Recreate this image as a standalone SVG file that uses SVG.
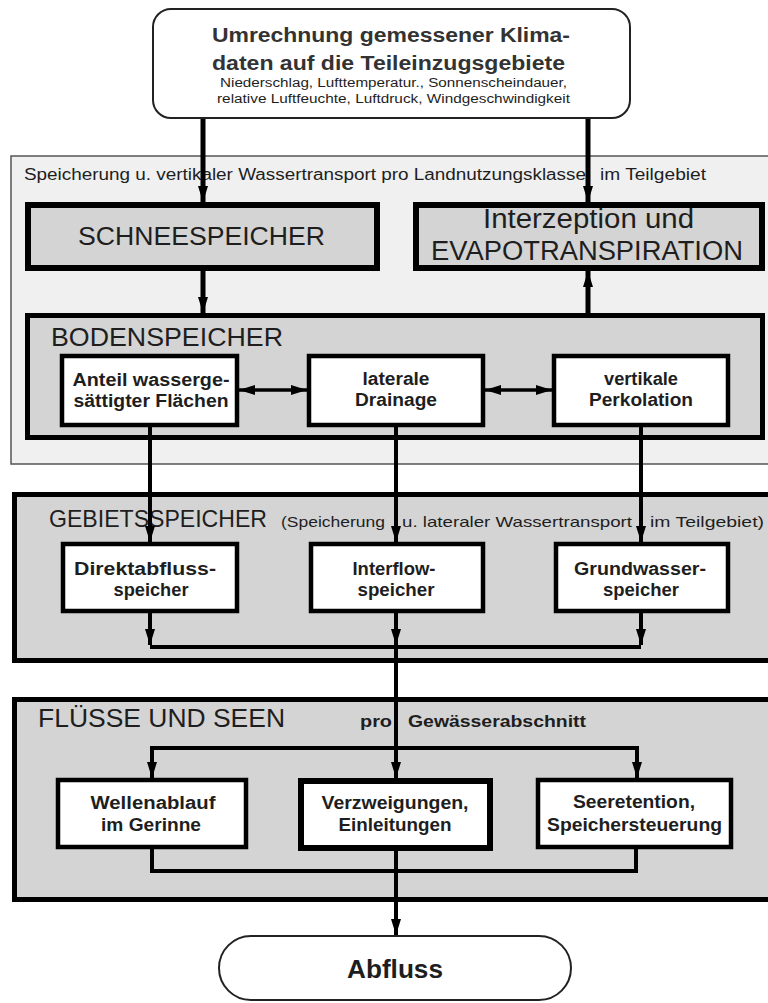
<svg xmlns="http://www.w3.org/2000/svg" width="768" height="1003" viewBox="0 0 768 1003">
<style>
.sec1{fill:#f0f0f0;stroke:#555;stroke-width:1.5}
.sec{fill:#d4d4d4;stroke:#000;stroke-width:5}
.gbox{fill:#d4d4d4;stroke:#000;stroke-width:6}
.wbox{fill:#fff;stroke:#000;stroke-width:4.5}
.term{fill:#fff;stroke:#222;stroke-width:2}
text{font-family:"Liberation Sans",Arial,sans-serif;fill:#1e1e1e}
.h{font-size:25px}
.bt{font-size:18px;font-weight:bold;text-anchor:middle}
.sm{font-size:16px}
.con{fill:none;stroke:#000;stroke-width:4;stroke-linejoin:miter}
</style>
<defs>
<marker id="ah" markerUnits="userSpaceOnUse" markerWidth="16" markerHeight="10" refX="16" refY="5" orient="auto-start-reverse" viewBox="0 0 16 10">
<path d="M0,0 L16,5 L0,10 z" fill="#000"/>
</marker>
</defs>

<g id="section-vertical">
<rect class="sec1" x="11" y="156" width="770" height="308"/>
<text class="sm" x="24" y="180" textLength="562" lengthAdjust="spacingAndGlyphs">Speicherung u. vertikaler Wassertransport pro Landnutzungsklasse</text>
<text class="sm" x="600" y="180" textLength="106" lengthAdjust="spacingAndGlyphs">im Teilgebiet</text>
</g>

<g id="section-gebiet">
<rect class="sec" x="14.5" y="494.5" width="770" height="166"/>
<text class="h" x="49" y="527" textLength="218" lengthAdjust="spacingAndGlyphs" style="font-size:24px">GEBIETSSPEICHER</text>
<text class="sm" x="281" y="527" textLength="104" lengthAdjust="spacingAndGlyphs" style="font-size:15px">(Speicherung</text>
<text class="sm" x="402" y="527" textLength="230" lengthAdjust="spacingAndGlyphs" style="font-size:15px">u. lateraler Wassertransport</text>
<text class="sm" x="650" y="527" textLength="114" lengthAdjust="spacingAndGlyphs" style="font-size:15px">im Teilgebiet)</text>
</g>

<g id="section-fluesse">
<rect class="sec" x="14.5" y="699.5" width="770" height="200"/>
<text class="h" x="38" y="727" textLength="247" lengthAdjust="spacingAndGlyphs">FLÜSSE UND SEEN</text>
<text class="sm" x="360" y="727" textLength="32" lengthAdjust="spacingAndGlyphs" style="font-weight:bold">pro</text>
<text class="sm" x="408" y="727" textLength="178" lengthAdjust="spacingAndGlyphs" style="font-weight:bold">Gewässerabschnitt</text>
</g>

<g id="klimadaten">
<rect class="term" x="153" y="9" width="477" height="109" rx="18" ry="18"/>
<text x="212" y="42" textLength="358" lengthAdjust="spacingAndGlyphs" style="font-size:20px;font-weight:bold;fill:#333">Umrechnung gemessener Klima-</text>
<text x="212" y="70" textLength="353" lengthAdjust="spacingAndGlyphs" style="font-size:20px;font-weight:bold;fill:#333">daten auf die Teileinzugsgebiete</text>
<text x="220" y="87" textLength="347" lengthAdjust="spacingAndGlyphs" style="font-size:12px">Niederschlag, Lufttemperatur., Sonnenscheindauer,</text>
<text x="217" y="103" textLength="353" lengthAdjust="spacingAndGlyphs" style="font-size:12px">relative Luftfeuchte, Luftdruck, Windgeschwindigkeit</text>
</g>

<g id="schneespeicher">
<rect class="gbox" x="28" y="205" width="349" height="63"/>
<text class="h" x="78" y="245" textLength="247" lengthAdjust="spacingAndGlyphs">SCHNEESPEICHER</text>
</g>

<g id="interzeption">
<rect class="gbox" x="416" y="205" width="346" height="63"/>
<text class="h" x="483" y="228" textLength="211" lengthAdjust="spacingAndGlyphs" style="font-size:27px">Interzeption und</text>
<text class="h" x="431" y="260" textLength="312" lengthAdjust="spacingAndGlyphs" style="font-size:27px">EVAPOTRANSPIRATION</text>
</g>

<g id="bodenspeicher">
<rect class="sec" x="27.5" y="315.5" width="735" height="122"/>
<text class="h" x="51" y="346" textLength="232" lengthAdjust="spacingAndGlyphs">BODENSPEICHER</text>
</g>

<g id="anteil">
<rect class="wbox" x="62" y="356" width="175" height="69"/>
<text class="bt" x="151" y="386" textLength="157" lengthAdjust="spacingAndGlyphs">Anteil wasserge-</text>
<text class="bt" x="151" y="407" textLength="155" lengthAdjust="spacingAndGlyphs">sättigter Flächen</text>
</g>
<g id="laterale">
<rect class="wbox" x="309" y="356" width="174" height="69"/>
<text class="bt" x="396" y="385" textLength="67" lengthAdjust="spacingAndGlyphs">laterale</text>
<text class="bt" x="396" y="406" textLength="82" lengthAdjust="spacingAndGlyphs">Drainage</text>
</g>
<g id="vertikale">
<rect class="wbox" x="554" y="356" width="174" height="69"/>
<text class="bt" x="641" y="385" textLength="74" lengthAdjust="spacingAndGlyphs">vertikale</text>
<text class="bt" x="641" y="406" textLength="104" lengthAdjust="spacingAndGlyphs">Perkolation</text>
</g>

<g id="direktabfluss">
<rect class="wbox" x="63" y="544" width="174" height="67"/>
<text class="bt" x="145" y="575" textLength="142" lengthAdjust="spacingAndGlyphs">Direktabfluss-</text>
<text class="bt" x="151" y="596" textLength="75" lengthAdjust="spacingAndGlyphs">speicher</text>
</g>
<g id="interflow">
<rect class="wbox" x="311" y="544" width="172" height="67"/>
<text class="bt" x="394" y="575" textLength="83" lengthAdjust="spacingAndGlyphs">Interflow-</text>
<text class="bt" x="396" y="596" textLength="77" lengthAdjust="spacingAndGlyphs">speicher</text>
</g>
<g id="grundwasser">
<rect class="wbox" x="556" y="544" width="172" height="67"/>
<text class="bt" x="640" y="575" textLength="132" lengthAdjust="spacingAndGlyphs">Grundwasser-</text>
<text class="bt" x="641" y="596" textLength="76" lengthAdjust="spacingAndGlyphs">speicher</text>
</g>

<g id="wellenablauf">
<rect class="wbox" x="58" y="780" width="188" height="67"/>
<text class="bt" x="153" y="809" textLength="125" lengthAdjust="spacingAndGlyphs">Wellenablauf</text>
<text class="bt" x="151" y="831" textLength="100" lengthAdjust="spacingAndGlyphs">im Gerinne</text>
</g>
<g id="verzweigungen">
<rect class="wbox" x="301" y="781" width="189" height="67" style="stroke-width:6"/>
<text class="bt" x="395" y="809" textLength="147" lengthAdjust="spacingAndGlyphs">Verzweigungen,</text>
<text class="bt" x="395" y="831" textLength="113" lengthAdjust="spacingAndGlyphs">Einleitungen</text>
</g>
<g id="seeretention">
<rect class="wbox" x="538" y="780" width="193" height="67"/>
<text class="bt" x="634" y="808" textLength="122" lengthAdjust="spacingAndGlyphs">Seeretention,</text>
<text class="bt" x="634.5" y="831" textLength="175" lengthAdjust="spacingAndGlyphs">Speichersteuerung</text>
</g>

<g id="abfluss">
<rect class="term" x="219" y="936" width="352" height="64" rx="32" ry="32"/>
<text x="395" y="978" text-anchor="middle" textLength="96" lengthAdjust="spacingAndGlyphs" style="font-size:25px;font-weight:bold">Abfluss</text>
</g>

<g id="connectors">
<path class="con" style="stroke-width:5" d="M203,119 V202" marker-end="url(#ah)"/>
<path class="con" style="stroke-width:5" d="M588,119 V202" marker-end="url(#ah)"/>
<path class="con" style="stroke-width:5" d="M203,271 V313" marker-end="url(#ah)"/>
<path class="con" style="stroke-width:5" d="M588,313 V271" marker-end="url(#ah)"/>
<path class="con" style="stroke-width:3.5" d="M239,390 H307" marker-start="url(#ah)" marker-end="url(#ah)"/>
<path class="con" style="stroke-width:3.5" d="M485,390 H552" marker-start="url(#ah)" marker-end="url(#ah)"/>
<path class="con" d="M150,427 V542" marker-end="url(#ah)"/>
<path class="con" d="M396,427 V542" marker-end="url(#ah)"/>
<path class="con" d="M641,427 V542" marker-end="url(#ah)"/>
<path class="con" d="M150,613 V645" marker-end="url(#ah)"/>
<path class="con" d="M396,613 V645" marker-end="url(#ah)"/>
<path class="con" d="M641,613 V645" marker-end="url(#ah)"/>
<path class="con" d="M150,647 H641"/>
<path class="con" d="M396,645 V750"/>
<path class="con" d="M152,750 V778" marker-end="url(#ah)"/>
<path class="con" d="M396,750 V778" marker-end="url(#ah)"/>
<path class="con" d="M637,750 V778" marker-end="url(#ah)"/>
<path class="con" d="M150,748 H639"/>
<path class="con" d="M152,849 V871 H636 V849"/>
<path class="con" d="M396,851 V935" marker-end="url(#ah)"/>
</g>
</svg>
